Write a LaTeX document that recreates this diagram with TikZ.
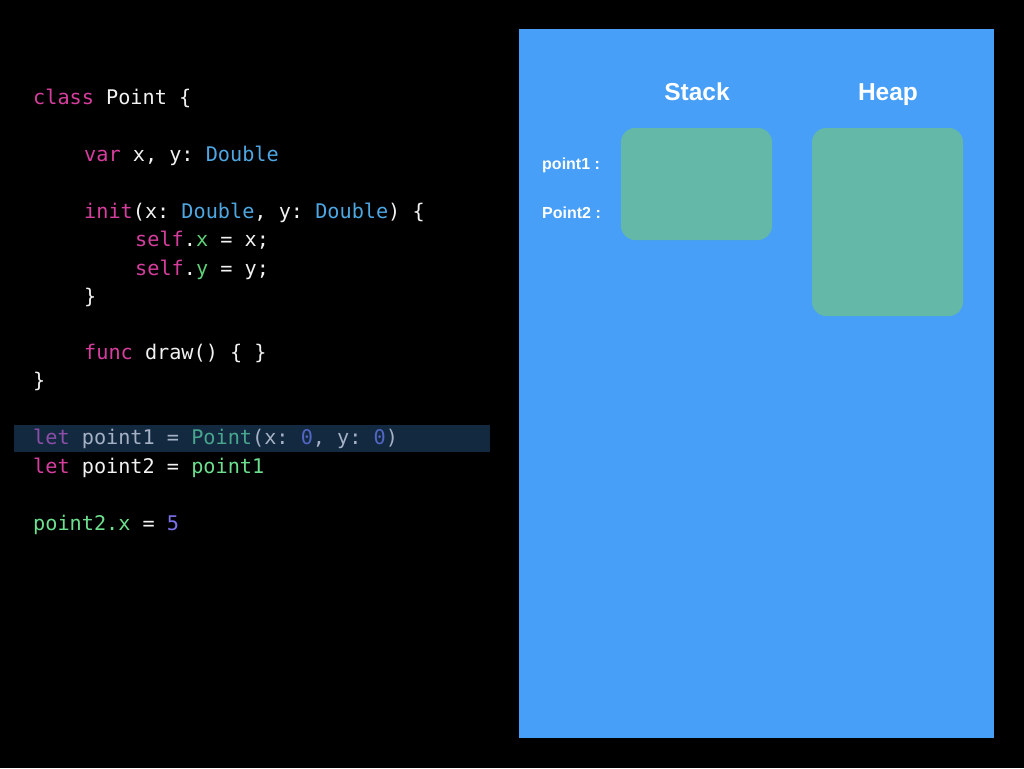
\documentclass[tikz,border=0pt]{standalone}
\usepackage{fontspec}
\setmainfont{Liberation Sans}
\setmonofont{DejaVu Sans Mono}
\definecolor{panelblue}{RGB}{71,159,248}
\definecolor{boxgreen}{RGB}{99,184,167}
\definecolor{hlbar}{RGB}{19,41,64}
\definecolor{ckw}{RGB}{214,62,158}
\definecolor{cty}{RGB}{78,167,226}
\definecolor{cpr}{RGB}{93,208,120}
\definecolor{cvr}{RGB}{108,224,142}
\definecolor{cnm}{RGB}{122,112,232}
\definecolor{cpl}{RGB}{242,242,242}
\definecolor{dkw}{RGB}{140,78,168}
\definecolor{dpl}{RGB}{165,178,198}
\definecolor{dtl}{RGB}{72,166,142}
\definecolor{dnm}{RGB}{82,102,196}
\newcommand{\kw}[1]{\textcolor{ckw}{#1}}
\newcommand{\ty}[1]{\textcolor{cty}{#1}}
\newcommand{\pr}[1]{\textcolor{cpr}{#1}}
\newcommand{\vr}[1]{\textcolor{cvr}{#1}}
\newcommand{\nm}[1]{\textcolor{cnm}{#1}}
\newcommand{\pl}[1]{\textcolor{cpl}{#1}}
\tikzset{
  codeline/.style={anchor=base west, inner sep=0pt, font=\fontsize{20.2}{24}\ttfamily, text=cpl},
  memlabel/.style={anchor=base west, inner sep=0pt, font=\fontsize{16}{19}\selectfont\bfseries, text=white},
  heading/.style={anchor=base, inner sep=0pt, font=\fontsize{24.5}{28}\selectfont\bfseries, text=white},
  membox/.style={fill=boxgreen, rounded corners=14pt},
}
\begin{document}
\begin{tikzpicture}[x=1pt,y=-1pt]
\fill[black] (0,0) rectangle (1024,768);
\useasboundingbox (0,0) rectangle (1024,768);
% panel
\fill[panelblue] (519,29) rectangle (994,738);
% highlight bar
\fill[hlbar] (14,425) rectangle (490,452);
% code
\def\cw{12.6}
\node[codeline] (l0) at (33,104) {\kw{class} Point \{};
\node[codeline] (l2) at (84,161) {\kw{var} x, y: \ty{Double}};
\node[codeline] (l4) at (84,218) {\kw{init}(x: \ty{Double}, y: \ty{Double}) \{};
\node[codeline] (l5) at (135,246) {\kw{self}.\pr{x} = x;};
\node[codeline] (l6) at (135,275) {\kw{self}.\pr{y} = y;};
\node[codeline] (l7) at (84,303) {\}};
\node[codeline] (l9) at (84,359) {\kw{func} draw() \{ \}};
\node[codeline] (l10) at (33,387) {\}};
\node[codeline, text=dpl] (l12) at (33,444) {\textcolor{dkw}{let} point1 = \textcolor{dtl}{Point}(x: \textcolor{dnm}{0}, y: \textcolor{dnm}{0})};
\node[codeline] (l13) at (33,473) {\kw{let} point2 = \vr{point1}};
\node[codeline] (l15) at (33,530) {\vr{point2.x} = \nm{5}};
% memory
\node[heading] (stack) at (697,100) {Stack};
\node[heading] (heap) at (888,100) {Heap};
\fill[membox] (621,128) rectangle (772,240);
\fill[membox] (812,128) rectangle (963,316);
\node[memlabel] (p1) at (542,169) {point1 :};
\node[memlabel] (p2) at (542,218) {Point2 :};
\end{tikzpicture}
\end{document}
